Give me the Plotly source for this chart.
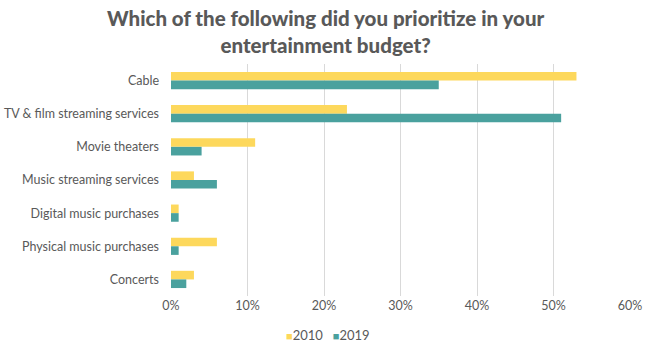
import plotly.graph_objects as go

categories = ["Cable", "TV & film streaming services", "Movie theaters",
              "Music streaming services", "Digital music purchases",
              "Physical music purchases", "Concerts"]
vals_2010 = [53, 23, 11, 3, 1, 6, 3]
vals_2019 = [35, 51, 4, 6, 1, 1, 2]
series_names = ["2010", "2019"]
series_colors = ["#FDD85C", "#4AA19E"]
tick_vals = [0, 10, 20, 30, 40, 50, 60]
tick_text = ["0%", "10%", "20%", "30%", "40%", "50%", "60%"]
title_text = "Which of the following did you prioritize in your<br>entertainment budget?"

fig = go.Figure()
for name, vals, col in zip(series_names, [vals_2010, vals_2019], series_colors):
    fig.add_trace(go.Bar(y=categories, x=vals, name=name, orientation="h",
                         marker=dict(color=col, line=dict(width=0))))

legend_html = "&nbsp;&nbsp;&nbsp;".join(
    f"<span style='color:{c};font-size:11px'>■</span>{n}" for n, c in zip(series_names, series_colors))

fig.update_layout(
    width=653, height=352,
    margin=dict(l=171, r=23, t=64, b=56),
    paper_bgcolor="white", plot_bgcolor="white",
    barmode="group", bargap=0.48, bargroupgap=0,
    font=dict(family="Lato", color="#595959", size=12),
    showlegend=False,
    xaxis=dict(range=[0, 60], tickvals=tick_vals, ticktext=tick_text,
               showgrid=True, gridcolor="#D9D9D9", gridwidth=1,
               zeroline=False, showline=False, ticks="", automargin=False,
               tickfont=dict(size=12.5, color="#595959")),
    yaxis=dict(autorange="reversed", showgrid=False, zeroline=False,
               showline=False, ticks="", ticklabelstandoff=11, automargin=False,
               tickfont=dict(size=12.5, color="#595959")),
    annotations=[
        dict(text=title_text, xref="paper", yref="paper",
             x=(325 - 171) / 459, y=1 + (64 - 4) / 232, xanchor="center", yanchor="top",
             showarrow=False, align="center",
             font=dict(family="Lato", size=20.5, color="#595959", weight=900)),
        dict(text=legend_html, xref="paper", yref="paper",
             x=(328 - 171) / 459, y=-(335 - 296) / 232, xanchor="center", yanchor="middle",
             showarrow=False, font=dict(family="Lato", size=13, color="#595959")),
    ],
)

fig.write_html("out.html")
